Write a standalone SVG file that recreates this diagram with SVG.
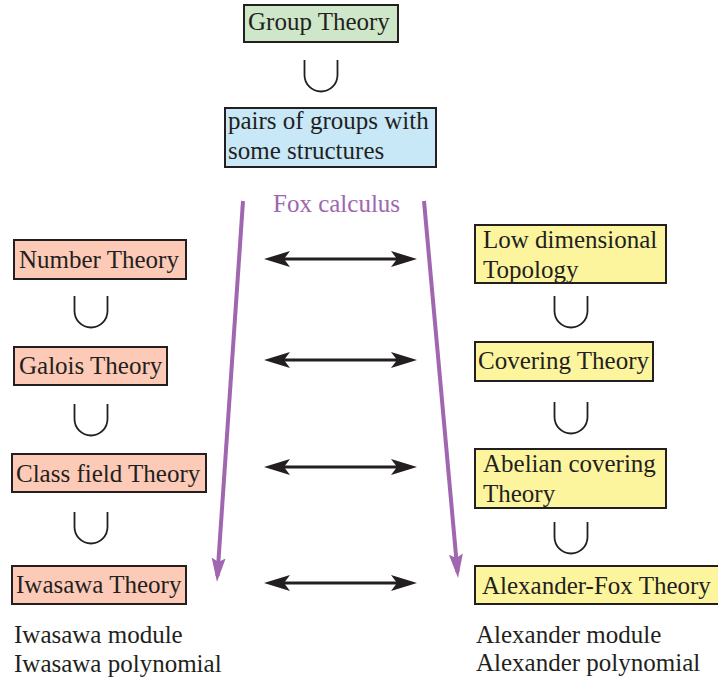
<svg xmlns="http://www.w3.org/2000/svg" width="718" height="682" viewBox="0 0 718 682">
<defs>
<style>
text{font-size:25px;fill:#231f20}
.box{stroke:#231f20;stroke-width:2}
.g{fill:#cfe7c9}.b{fill:#c8e8f8}.s{fill:#fccab6}.y{fill:#fdf59e}
.cup{fill:none;stroke:#231f20;stroke-width:1.8}
.dbl{stroke:#231f20;stroke-width:3.2;fill:none;marker-start:url(#blk);marker-end:url(#blk)}
.pur{stroke:#a066b0;stroke-width:4;fill:none;marker-end:url(#pa)}
.fox{fill:#a066b0}
</style>
<marker id="blk" markerUnits="userSpaceOnUse" markerWidth="30" markerHeight="20" refX="20" refY="8" orient="auto-start-reverse">
<path d="M0,0 L26,8 L0,16 L6,8 Z" fill="#231f20"/>
</marker>
<marker id="pa" markerUnits="userSpaceOnUse" markerWidth="30" markerHeight="20" refX="18" refY="7" orient="auto">
<path d="M0,0 L24,7 L0,14 L4,7 Z" fill="#a066b0"/>
</marker>
</defs>
<rect width="718" height="682" fill="#fff"/>
<g font-family="Liberation Serif, DejaVu Serif, serif">
<g id="group-theory"><rect class="box g" x="244" y="5" width="154" height="37"/><text x="248" y="30">Group Theory</text></g>
<g id="pairs"><rect class="box b" x="225" y="108" width="211" height="59"/><text x="228" y="129">pairs of groups with</text><text x="228" y="159">some structures</text></g>

<g id="number-theory"><rect class="box s" x="14" y="240" width="172" height="39"/><text x="19" y="268">Number Theory</text></g>
<g id="galois-theory"><rect class="box s" x="14" y="347" width="153" height="38"/><text x="19" y="374">Galois Theory</text></g>
<g id="class-field-theory"><rect class="box s" x="12" y="454" width="194" height="38"/><text x="16" y="482">Class field Theory</text></g>
<g id="iwasawa-theory"><rect class="box s" x="12" y="566" width="174" height="38"/><text x="16" y="593">Iwasawa Theory</text></g>
<g id="iwasawa-notes"><text x="14" y="643">Iwasawa module</text><text x="14" y="672">Iwasawa polynomial</text></g>

<g id="low-dim-topology"><rect class="box y" x="475" y="225" width="191" height="58"/><text x="483" y="248">Low dimensional</text><text x="483" y="278">Topology</text></g>
<g id="covering-theory"><rect class="box y" x="475" y="342" width="178" height="39"/><text x="478" y="369">Covering Theory</text></g>
<g id="abelian-covering"><rect class="box y" x="475" y="449" width="191" height="59"/><text x="483" y="472">Abelian covering</text><text x="483" y="502">Theory</text></g>
<g id="alexander-fox"><rect class="box y" x="475" y="566" width="250" height="38"/><text x="482" y="594">Alexander-Fox Theory</text></g>
<g id="alexander-notes"><text x="476" y="643">Alexander module</text><text x="476" y="671">Alexander polynomial</text></g>

<g id="fox-label"><text class="fox" x="273" y="212">Fox calculus</text></g>
</g>
<g id="connectors">
<path class="cup" d="M304.5,60 V75 A16.5,16.5 0 0 0 337.5,75 V60"/>
<path class="cup" d="M74.5,296 V311 A16.5,16.5 0 0 0 107.5,311 V296"/>
<path class="cup" d="M74.5,404 V419 A16.5,16.5 0 0 0 107.5,419 V404"/>
<path class="cup" d="M74.5,512 V527 A16.5,16.5 0 0 0 107.5,527 V512"/>
<path class="cup" d="M554.5,296 V311 A16.5,16.5 0 0 0 587.5,311 V296"/>
<path class="cup" d="M554.5,402 V417 A16.5,16.5 0 0 0 587.5,417 V402"/>
<path class="cup" d="M554.5,522 V537 A16.5,16.5 0 0 0 587.5,537 V522"/>
<line class="dbl" x1="270" y1="259" x2="411" y2="259"/>
<line class="dbl" x1="270" y1="360" x2="411" y2="360"/>
<line class="dbl" x1="270" y1="467" x2="411" y2="467"/>
<line class="dbl" x1="270" y1="583" x2="411" y2="583"/>
<line class="pur" x1="243" y1="201" x2="217.4" y2="576"/>
<line class="pur" x1="424" y1="201" x2="457.5" y2="572"/>
</g>
</svg>
